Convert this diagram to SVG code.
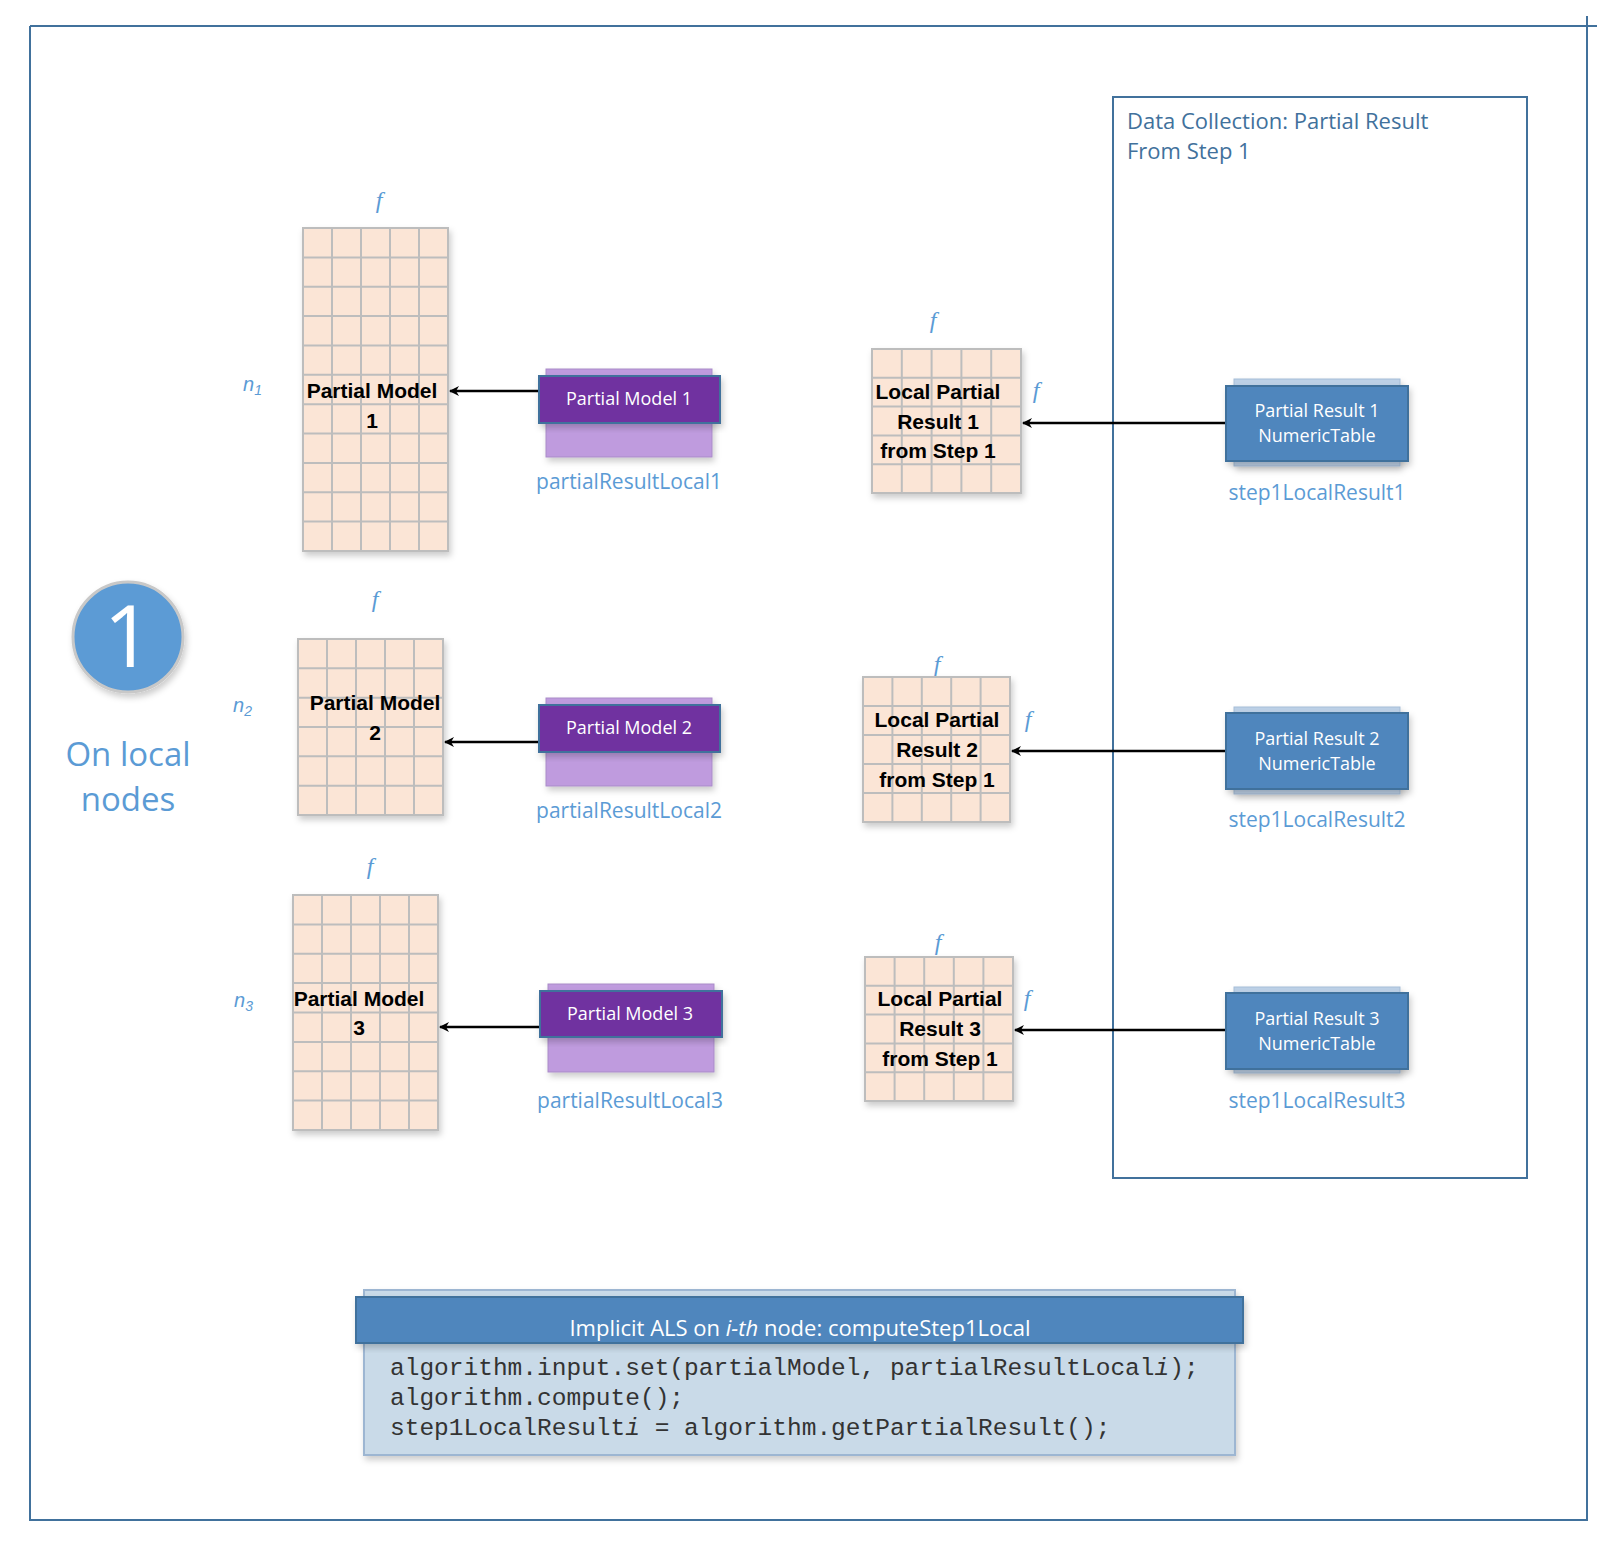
<svg xmlns="http://www.w3.org/2000/svg" width="1619" height="1558" viewBox="0 0 1619 1558">
<style>
.grid{fill:#FBE5D6;stroke:#BDBDBD;stroke-width:2}
.gl{fill:none;stroke:#BDBDBD;stroke-width:2}
.gt{font-family:"Liberation Sans",Arial,sans-serif;font-weight:bold;font-size:21px;fill:#000;text-anchor:middle}
.fl{font-family:"Liberation Serif",serif;font-style:italic;font-size:24px;fill:#5B9BD5;text-anchor:middle}
.nl{font-family:"Liberation Sans",Arial,sans-serif;font-style:italic;font-size:20px;fill:#5B9BD5}
.pb{fill:#BF9BDE;stroke:#A98BC8;stroke-width:1}
.pf{fill:#7030A0;stroke:#41719C;stroke-width:2}
.bb{fill:#BCD0E6;stroke:#A6BDD7;stroke-width:1}
.bf{fill:#4F86BD;stroke:#41719C;stroke-width:2}
.wt{font-family:"Open Sans","Liberation Sans",sans-serif;font-size:18px;fill:#fff;text-anchor:middle}
.lb{font-family:"Open Sans","Liberation Sans",sans-serif;font-size:21px;fill:#5B9BD5;text-anchor:middle}
.cn{stroke:#000;stroke-width:2.5;fill:none;marker-end:url(#ah)}
.code{font-family:"Liberation Mono","Courier New",monospace;font-size:24.5px;fill:#333}
</style>
<defs>
<marker id="ah" markerWidth="10" markerHeight="10" refX="9" refY="5" orient="auto" markerUnits="userSpaceOnUse" viewBox="0 0 10 10"><path d="M0,0 L10,5 L0,10 L3,5 z" fill="#000"/></marker>
<filter id="sh" x="-10%" y="-10%" width="130%" height="130%"><feDropShadow dx="2" dy="4" stdDeviation="3" flood-color="#000" flood-opacity="0.2"/></filter>
</defs>
<rect width="1619" height="1558" fill="#fff"/>
<g id="frame" fill="none" stroke="#41719C" stroke-width="2">
<path d="M30,26 H1597 M1587,16 V1520 H30 V26"/>
</g>
<g id="data-collection">
<rect x="1113" y="97" width="414" height="1081" fill="none" stroke="#41719C" stroke-width="2"/>
<text x="1127" y="129" font-family="Open Sans,Liberation Sans,sans-serif" font-size="22" fill="#41719C">Data Collection: Partial Result</text>
<text x="1127" y="159" font-family="Open Sans,Liberation Sans,sans-serif" font-size="22" fill="#41719C">From Step 1</text>
</g>
<g id="step-badge">
<circle cx="128" cy="637" r="55" fill="#5B9BD5" stroke="#C8C8C8" stroke-width="3" filter="url(#sh)"/>
<text x="128" y="667" font-family="Open Sans,Liberation Sans,sans-serif" font-size="86" fill="#fff" text-anchor="middle">1</text>
<text x="128" y="766" font-family="Open Sans,Liberation Sans,sans-serif" font-size="33" fill="#5B9BD5" text-anchor="middle">On local</text>
<text x="128" y="811" font-family="Open Sans,Liberation Sans,sans-serif" font-size="33" fill="#5B9BD5" text-anchor="middle">nodes</text>
</g>
<g id="connectors">
<path class="cn" d="M539,391 H450"/>
<path class="cn" d="M539,742 H445"/>
<path class="cn" d="M540,1027 H440"/>
<path class="cn" d="M1226,423 H1023"/>
<path class="cn" d="M1226,751 H1012"/>
<path class="cn" d="M1226,1030 H1015"/>
</g>
<g id="model1">
<text class="fl" x="379" y="208">f</text>
<text class="nl" x="243" y="391">n<tspan font-size="14" dy="4">1</tspan></text>
<rect class="grid" x="303" y="228" width="145" height="323" filter="url(#sh)"/>
<path class="gl" d="M332,228V551M361,228V551M390,228V551M419,228V551M303,257.4H448M303,286.7H448M303,316.1H448M303,345.5H448M303,374.8H448M303,404.2H448M303,433.5H448M303,462.9H448M303,492.3H448M303,521.6H448"/>
<text class="gt" x="372" y="398">Partial Model</text>
<text class="gt" x="372" y="428">1</text>
</g>
<g id="model2">
<text class="fl" x="375" y="607">f</text>
<text class="nl" x="233" y="712">n<tspan font-size="14" dy="4">2</tspan></text>
<rect class="grid" x="298" y="639" width="145" height="176" filter="url(#sh)"/>
<path class="gl" d="M327,639V815M356,639V815M385,639V815M414,639V815M298,668.3H443M298,697.7H443M298,727H443M298,756.3H443M298,785.7H443"/>
<text class="gt" x="375" y="710">Partial Model</text>
<text class="gt" x="375" y="740">2</text>
</g>
<g id="model3">
<text class="fl" x="370" y="874">f</text>
<text class="nl" x="234" y="1007">n<tspan font-size="14" dy="4">3</tspan></text>
<rect class="grid" x="293" y="895" width="145" height="235" filter="url(#sh)"/>
<path class="gl" d="M322,895V1130M351,895V1130M380,895V1130M409,895V1130M293,924.4H438M293,953.8H438M293,983.1H438M293,1012.5H438M293,1041.9H438M293,1071.3H438M293,1100.6H438"/>
<text class="gt" x="359" y="1006">Partial Model</text>
<text class="gt" x="359" y="1035">3</text>
</g>
<g id="pm1">
<rect class="pb" x="546" y="369" width="166" height="88" filter="url(#sh)"/>
<rect class="pf" x="539" y="376" width="181" height="47" filter="url(#sh)"/>
<text class="wt" x="629" y="405">Partial Model 1</text>
<text class="lb" x="629" y="489">partialResultLocal1</text>
</g>
<g id="pm2">
<rect class="pb" x="546" y="698" width="166" height="88" filter="url(#sh)"/>
<rect class="pf" x="539" y="705" width="181" height="47" filter="url(#sh)"/>
<text class="wt" x="629" y="734">Partial Model 2</text>
<text class="lb" x="629" y="818">partialResultLocal2</text>
</g>
<g id="pm3">
<rect class="pb" x="548" y="984" width="166" height="88" filter="url(#sh)"/>
<rect class="pf" x="540" y="991" width="182" height="46" filter="url(#sh)"/>
<text class="wt" x="630" y="1020">Partial Model 3</text>
<text class="lb" x="630" y="1108">partialResultLocal3</text>
</g>
<g id="local1">
<text class="fl" x="933" y="328">f</text>
<text class="fl" x="1036" y="398">f</text>
<rect class="grid" x="872" y="349" width="149" height="144" filter="url(#sh)"/>
<path class="gl" d="M901.8,349V493M931.6,349V493M961.4,349V493M991.2,349V493M872,377.8H1021M872,406.6H1021M872,435.4H1021M872,464.2H1021"/>
<text class="gt" x="938" y="399">Local Partial</text>
<text class="gt" x="938" y="429">Result 1</text>
<text class="gt" x="938" y="458">from Step 1</text>
</g>
<g id="local2">
<text class="fl" x="937" y="672">f</text>
<text class="fl" x="1028" y="727">f</text>
<rect class="grid" x="863" y="677" width="147" height="145" filter="url(#sh)"/>
<path class="gl" d="M892.4,677V822M921.8,677V822M951.2,677V822M980.6,677V822M863,706H1010M863,735H1010M863,764H1010M863,793H1010"/>
<text class="gt" x="937" y="727">Local Partial</text>
<text class="gt" x="937" y="757">Result 2</text>
<text class="gt" x="937" y="787">from Step 1</text>
</g>
<g id="local3">
<text class="fl" x="938" y="950">f</text>
<text class="fl" x="1027" y="1006">f</text>
<rect class="grid" x="865" y="957" width="148" height="144" filter="url(#sh)"/>
<path class="gl" d="M894.6,957V1101M924.2,957V1101M953.8,957V1101M983.4,957V1101M865,985.8H1013M865,1014.6H1013M865,1043.4H1013M865,1072.2H1013"/>
<text class="gt" x="940" y="1006">Local Partial</text>
<text class="gt" x="940" y="1036">Result 3</text>
<text class="gt" x="940" y="1066">from Step 1</text>
</g>
<g id="pr1">
<rect class="bb" x="1234" y="379" width="166" height="87" filter="url(#sh)"/>
<rect class="bf" x="1226" y="386" width="182" height="75" filter="url(#sh)"/>
<text class="wt" x="1317" y="417">Partial Result 1</text>
<text class="wt" x="1317" y="442">NumericTable</text>
<text class="lb" x="1317" y="500">step1LocalResult1</text>
</g>
<g id="pr2">
<rect class="bb" x="1234" y="707" width="166" height="87" filter="url(#sh)"/>
<rect class="bf" x="1226" y="713" width="182" height="76" filter="url(#sh)"/>
<text class="wt" x="1317" y="745">Partial Result 2</text>
<text class="wt" x="1317" y="770">NumericTable</text>
<text class="lb" x="1317" y="827">step1LocalResult2</text>
</g>
<g id="pr3">
<rect class="bb" x="1234" y="987" width="166" height="86" filter="url(#sh)"/>
<rect class="bf" x="1226" y="993" width="182" height="76" filter="url(#sh)"/>
<text class="wt" x="1317" y="1025">Partial Result 3</text>
<text class="wt" x="1317" y="1050">NumericTable</text>
<text class="lb" x="1317" y="1108">step1LocalResult3</text>
</g>
<g id="code-box">
<rect x="364" y="1290" width="871" height="165" fill="#C9DAE8" stroke="#9DB6D2" stroke-width="2" filter="url(#sh)"/>
<rect x="356" y="1297" width="887" height="46" fill="#4F86BD" stroke="#41719C" stroke-width="2" filter="url(#sh)"/>
<text x="800" y="1336" font-family="Open Sans,Liberation Sans,sans-serif" font-size="22" fill="#fff" text-anchor="middle">Implicit ALS on <tspan font-style="italic">i-th</tspan> node: computeStep1Local</text>
<text class="code" x="390" y="1375">algorithm.input.set(partialModel, partialResultLocal<tspan font-style="italic">i</tspan>);</text>
<text class="code" x="390" y="1405">algorithm.compute();</text>
<text class="code" x="390" y="1435">step1LocalResult<tspan font-style="italic">i</tspan> = algorithm.getPartialResult();</text>
</g>
</svg>
